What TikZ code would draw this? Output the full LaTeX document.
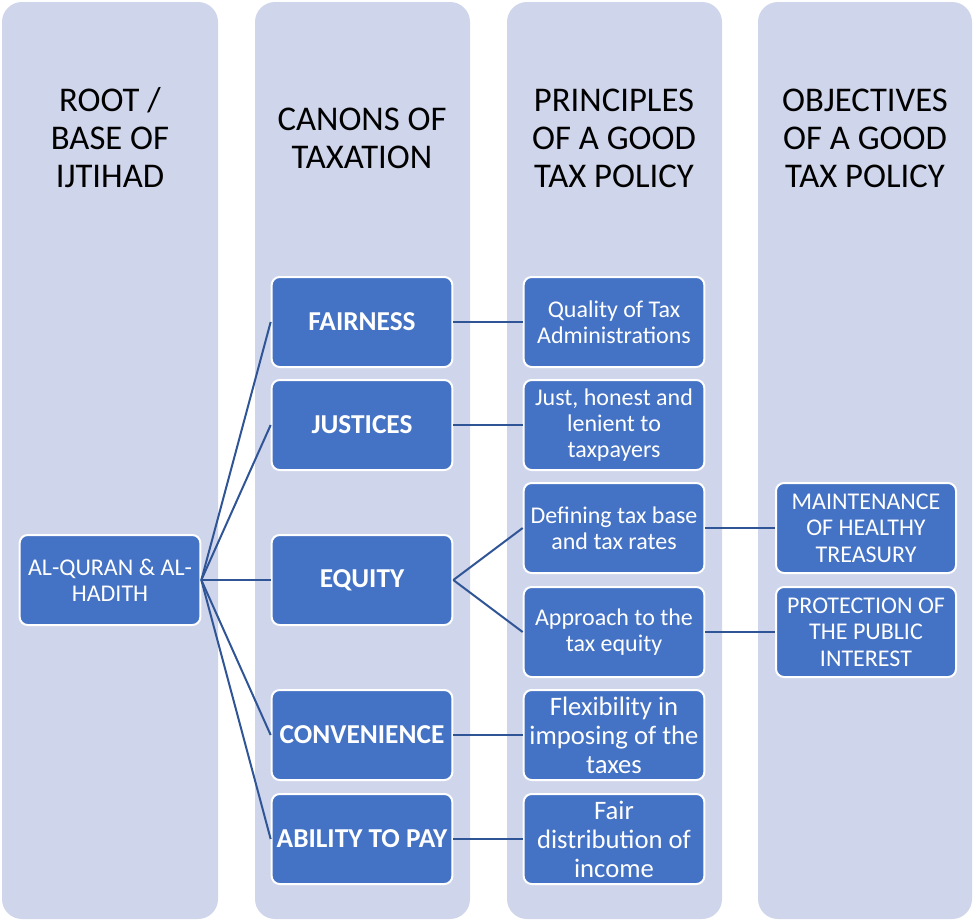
\documentclass[tikz,border=0pt]{standalone}
\usepackage{fontspec}
\setmainfont{Carlito}
\definecolor{colbg}{HTML}{CFD5EA}
\definecolor{boxblue}{HTML}{4472C4}
\definecolor{linkblue}{HTML}{2F5597}
\begin{document}
\begin{tikzpicture}[x=0.75pt,y=-0.75pt,
  head/.style={align=center,font=\fontsize{26}{28.5}\selectfont,text=black},
  card/.style={draw=white,line width=1.5pt,fill=boxblue,rounded corners=6pt,
    minimum width=135.5pt,minimum height=67.5pt,inner sep=1pt,align=center,
    text=white,font=\fontsize{18}{19.8}\selectfont},
  canon/.style={card,font=\fontsize{20.5}{19.8}\bfseries\selectfont},
  widecard/.style={card,font=\fontsize{20}{21.75}\selectfont},
  link/.style={draw=linkblue,line width=1.5pt}]
  \useasboundingbox (0,0) rectangle (973,921);
  % four column panels
  \foreach \l/\r in {2/218,255/470,507/722,758/972}{
    \fill[colbg,rounded corners=15pt] (\l,2) rectangle (\r,919);}
  \node[head] (h1) at (110,138) {ROOT /\\BASE OF\\IJTIHAD};
  \node[head] (h2) at (362,138) {CANONS OF\\TAXATION};
  \node[head] (h3) at (614,138) {PRINCIPLES\\OF A GOOD\\TAX POLICY};
  \node[head] (h4) at (865,138) {OBJECTIVES\\OF A GOOD\\TAX POLICY};

  % root
  \node[card] (root) at (110,580) {AL-QURAN \& AL-\\HADITH};

  % canons
  \node[canon] (fair) at (362,322) {FAIRNESS};
  \node[canon] (just) at (362,425) {JUSTICES};
  \node[canon] (equity) at (362,580) {EQUITY};
  \node[canon] (conv) at (362,735) {CONVENIENCE};
  \node[canon] (ability) at (362,839) {ABILITY TO PAY};

  % principles
  \node[card] (quality) at (614,322) {Quality of Tax\\Administrations};
  \node[card] (honest) at (614,425) {Just, honest and\\lenient to\\taxpayers};
  \node[card] (define) at (614,528) {Defining tax base\\and tax rates};
  \node[card] (approach) at (614,632) {Approach to the\\tax equity};
  \node[widecard] (flex) at (614,735) {Flexibility in\\imposing of the\\taxes};
  \node[widecard] (distrib) at (614,839) {Fair\\distribution of\\income};

  % objectives
  \node[card,minimum width=135pt] (treasury) at (866,528) {MAINTENANCE\\OF HEALTHY\\TREASURY};
  \node[card,minimum width=135pt] (public) at (866,632) {PROTECTION OF\\THE PUBLIC\\INTEREST};

  \foreach \c in {fair,just,equity,conv,ability}{
    \draw[link] (root.east) -- (\c.west);}
  \foreach \a/\b in {fair/quality,just/honest,conv/flex,ability/distrib,
                     define/treasury,approach/public}{
    \draw[link] (\a.east) -- (\b.west);}
  \draw[link] (equity.east) -- (define.west);
  \draw[link] (equity.east) -- (approach.west);
\end{tikzpicture}
\end{document}
